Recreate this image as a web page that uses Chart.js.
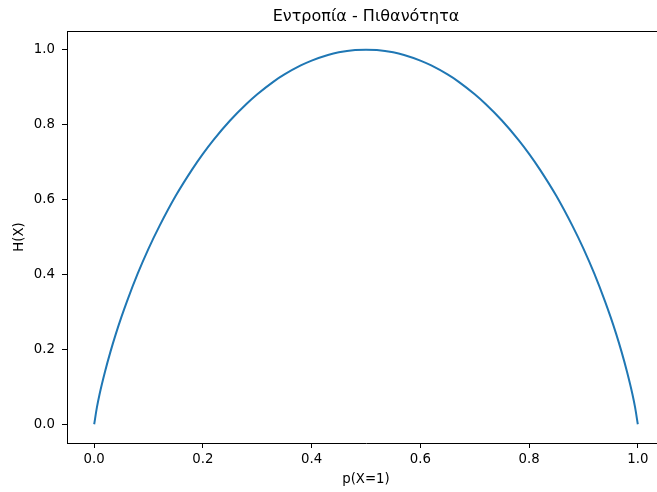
<!DOCTYPE html>
<html>
<head>
<meta charset="utf-8">
<script src="https://cdn.jsdelivr.net/npm/chart.js@4/dist/chart.umd.min.js"></script>
<style>
html,body{margin:0;padding:0;background:#fff;overflow:hidden;width:657px;height:492px;}
canvas{display:block;}
</style>
</head>
<body>
<canvas id="c" width="700" height="492"></canvas>
<script>
const chartTitle = "Εντροπία - Πιθανότητα";
const xLabel = "p(X=1)";
const yLabel = "H(X)";
const pValues = [0, 0.005, 0.01, 0.02, 0.03, 0.04, 0.05, 0.06, 0.08, 0.1, 0.12, 0.15, 0.18, 0.2, 0.22, 0.25,
                 0.28, 0.3, 0.33, 0.35, 0.38, 0.4, 0.43, 0.45, 0.48, 0.5,
                 0.52, 0.55, 0.57, 0.6, 0.62, 0.65, 0.67, 0.7, 0.72, 0.75, 0.78, 0.8, 0.82, 0.85, 0.88,
                 0.9, 0.92, 0.94, 0.95, 0.96, 0.97, 0.98, 0.99, 0.995, 1.0];
const hValues = [0, 0.045, 0.081, 0.141, 0.194, 0.242, 0.286, 0.327, 0.402, 0.469, 0.529, 0.610, 0.680, 0.722, 0.760, 0.811,
                 0.855, 0.881, 0.915, 0.934, 0.958, 0.971, 0.986, 0.993, 0.999, 1.0,
                 0.999, 0.993, 0.986, 0.971, 0.958, 0.934, 0.915, 0.881, 0.855, 0.811, 0.760, 0.722, 0.680, 0.610, 0.529,
                 0.469, 0.402, 0.327, 0.286, 0.242, 0.194, 0.141, 0.081, 0.045, 0];
const xTicks = [0.0, 0.2, 0.4, 0.6, 0.8, 1.0];
const yTicks = [0.0, 0.2, 0.4, 0.6, 0.8, 1.0];

const FONT = "'DejaVu Sans', sans-serif";
const points = pValues.map((p, i) => ({x: p, y: hValues[i]}));

const framePlugin = {
  id: 'frame',
  afterDraw(chart) {
    const {ctx, chartArea} = chart;
    ctx.save();
    ctx.strokeStyle = '#000';
    ctx.lineWidth = 1;
    ctx.beginPath();
    ctx.moveTo(chartArea.left, chartArea.top + 0.5);
    ctx.lineTo(chartArea.right, chartArea.top + 0.5);
    ctx.stroke();
    ctx.fillStyle = '#000';
    ctx.font = "16px " + FONT;
    ctx.textAlign = 'center';
    ctx.textBaseline = 'middle';
    ctx.fillText(chartTitle, (chartArea.left + chartArea.right) / 2, 17);
    ctx.restore();
  }
};

new Chart(document.getElementById('c'), {
  type: 'line',
  data: {
    datasets: [{
      data: points,
      borderColor: '#1f77b4',
      borderWidth: 2,
      pointRadius: 0,
      fill: false,
      cubicInterpolationMode: 'monotone'
    }]
  },
  options: {
    responsive: false,
    animation: false,
    devicePixelRatio: 1,
    layout: {padding: {top: 31, right: 35, left: 0, bottom: 0}},
    plugins: {legend: {display: false}, tooltip: {enabled: false}, title: {display: false}},
    scales: {
      x: {
        type: 'linear',
        min: -0.05,
        max: 1.05,
        afterBuildTicks: s => { s.ticks = xTicks.map(v => ({value: v})); },
        afterFit: s => { s.height = 49; },
        ticks: {color: '#000', font: {family: FONT, size: 13.3}, padding: 4, maxRotation: 0,
                callback: v => Number(v).toFixed(1)},
        grid: {display: true, drawOnChartArea: false, drawTicks: true, tickLength: 5, color: '#000', lineWidth: 1},
        border: {display: true, color: '#000', width: 1},
        title: {display: true, text: xLabel, color: '#000', font: {family: FONT, size: 13.3}, padding: {top: 4, bottom: 4}}
      },
      y: {
        type: 'linear',
        min: -0.05,
        max: 1.05,
        afterBuildTicks: s => { s.ticks = yTicks.map(v => ({value: v})); },
        afterFit: s => { s.width = 67; },
        ticks: {color: '#000', font: {family: FONT, size: 13.3}, padding: 7,
                callback: v => Number(v).toFixed(1)},
        grid: {display: true, drawOnChartArea: false, drawTicks: true, tickLength: 5, color: '#000', lineWidth: 1},
        border: {display: true, color: '#000', width: 1},
        title: {display: true, text: yLabel, color: '#000', font: {family: FONT, size: 13.3}, padding: {top: 12, bottom: 4}}
      }
    }
  },
  plugins: [framePlugin]
});
</script>
</body>
</html>
